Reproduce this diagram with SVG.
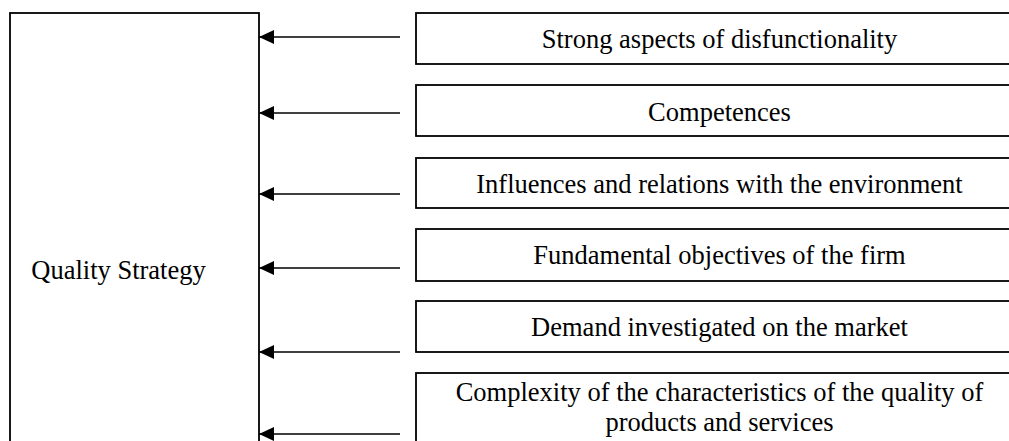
<svg xmlns="http://www.w3.org/2000/svg" width="1009" height="441" viewBox="0 0 1009 441">
  <style>
    .box { fill: #fff; stroke: #000; stroke-width: 1.8; }
    .lbl { font-family: "Liberation Serif", "Times New Roman", serif; font-size: 26.5px; fill: #000; text-anchor: middle; }
    .arrow { stroke: #000; stroke-width: 1.5; fill: none; marker-end: url(#head); }
  </style>
  <defs>
    <!-- filled triangular arrowhead, tip at the line end -->
    <marker id="head" markerWidth="15" markerHeight="14" refX="15" refY="7" orient="auto" markerUnits="userSpaceOnUse" viewBox="0 0 15 14">
      <path d="M0,0 L15,7 L0,14 Z" fill="#000"/>
    </marker>
  </defs>

  <g id="quality-strategy">
    <rect class="box" x="10" y="13" width="249" height="440"/>
    <text class="lbl" x="118.5" y="279">Quality Strategy</text>
  </g>

  <g id="factor-1">
    <rect class="box" x="416" y="13" width="620" height="51"/>
    <text class="lbl" x="719.5" y="48">Strong aspects of disfunctionality</text>
  </g>
  <g id="factor-2">
    <rect class="box" x="416" y="85" width="620" height="51"/>
    <text class="lbl" x="719.5" y="121">Competences</text>
  </g>
  <g id="factor-3">
    <rect class="box" x="416" y="158" width="620" height="50"/>
    <text class="lbl" x="719.5" y="193">Influences and relations with the environment</text>
  </g>
  <g id="factor-4">
    <rect class="box" x="416" y="229" width="620" height="52"/>
    <text class="lbl" x="719.5" y="264">Fundamental objectives of the firm</text>
  </g>
  <g id="factor-5">
    <rect class="box" x="416" y="301" width="620" height="51"/>
    <text class="lbl" x="719.5" y="336">Demand investigated on the market</text>
  </g>
  <g id="factor-6">
    <rect class="box" x="416" y="373" width="620" height="80"/>
    <text class="lbl" x="719.5" y="401">Complexity of the characteristics of the quality of</text>
    <text class="lbl" x="719.5" y="431">products and services</text>
  </g>

  <g id="connectors">
    <line class="arrow" x1="400" y1="37" x2="259" y2="37"/>
    <line class="arrow" x1="400" y1="113" x2="259" y2="113"/>
    <line class="arrow" x1="400" y1="194" x2="259" y2="194"/>
    <line class="arrow" x1="400" y1="268" x2="259" y2="268"/>
    <line class="arrow" x1="400" y1="352" x2="259" y2="352"/>
    <line class="arrow" x1="400" y1="434" x2="259" y2="434"/>
  </g>
</svg>
